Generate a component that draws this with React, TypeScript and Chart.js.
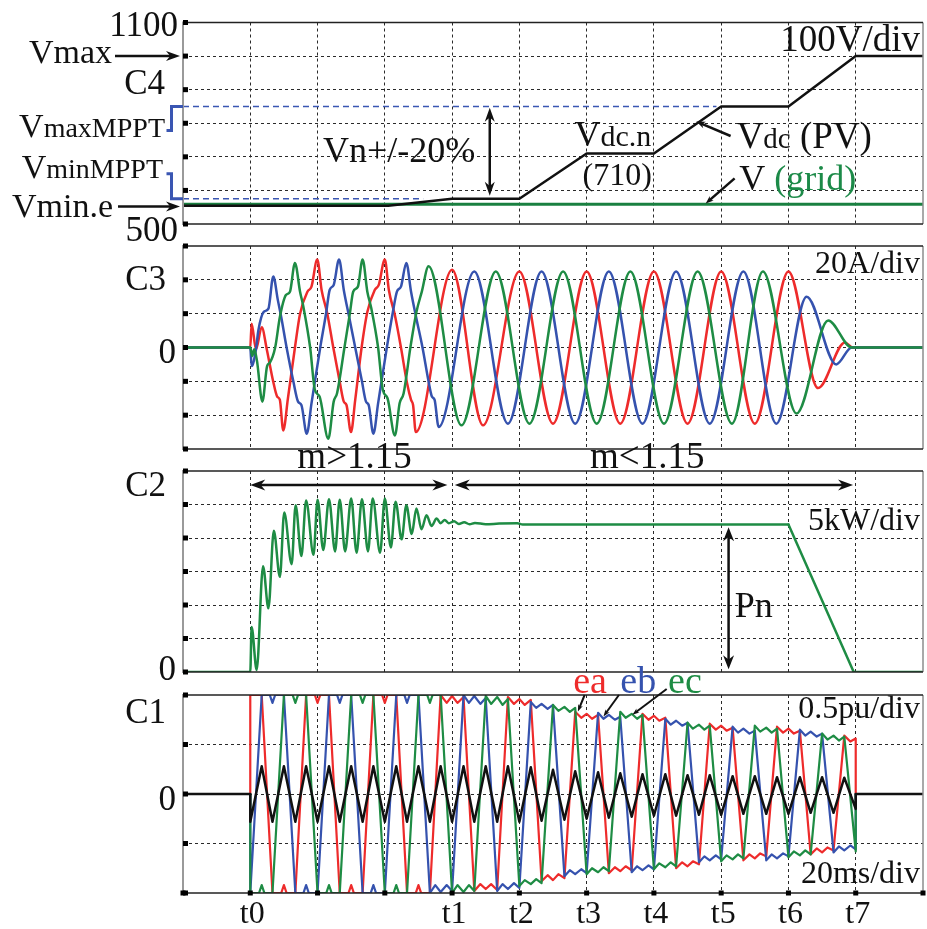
import React, { useEffect, useRef } from 'react';
import { Chart, registerables } from 'chart.js';

Chart.register(...registerables);

// ---------------- data (x in time divisions, 20 ms/div) ----------------
type P = [number, number];

// C4 : voltages (V)
const vdcTime = [0, 3.05, 4.0, 5.0, 6.0, 7.0, 8.0, 9.0, 10.0, 11.0];
const vdcVolts = [554, 554, 575, 575, 710, 710, 850, 850, 1000, 1000];
const gridTime = [0, 11];
const gridVolts = [559, 559];
const mpptMaxTime = [0, 7.93];
const mpptMaxVolts = [850, 850];
const mpptMinTime = [0, 3.57];
const mpptMinVolts = [575, 575];

// C3 : phase currents (A)
const iaPoints: P[] = [[0, 0], [1.0, 0], [1.02, 14], [1.085, -1], [1.17, 12], [1.245, -1], [1.34, -20], [1.4, -29], [1.44, -31], [1.49, -49], [1.56, -30], [1.664, 0], [1.74, 20], [1.85, 33], [1.91, 36], [1.996, 52], [2.06, 34], [2.145, 20], [2.234, 0], [2.333, -21], [2.39, -32], [2.43, -34], [2.497, -50], [2.56, -31], [2.655, 0], [2.74, 21], [2.85, 34], [2.91, 37], [3.0, 52], [3.06, 34], [3.15, 19], [3.24, 0], [3.33, -21], [3.39, -31], [3.42, -34], [3.46, -50], [4.0, 46], [4.46, -46], [5.0, 45], [5.5, -45], [6.0, 45], [6.5, -45], [7.0, 45], [7.5, -45], [8.0, 45], [8.5, -45], [9.0, 45], [9.44, -24], [9.84, 3], [9.95, 0], [11, 0]];
const ibPoints: P[] = [[0, 0], [1.0, 0], [1.02, -11], [1.085, -1], [1.12, 10], [1.2, 21], [1.27, 23], [1.342, 42], [1.41, 28], [1.46, 18], [1.54, 0], [1.64, -20], [1.71, -32], [1.76, -34], [1.84, -51], [1.91, -33], [2.04, 0], [2.13, 21], [2.18, 34], [2.24, 37], [2.32, 52], [2.39, 34], [2.47, 18], [2.56, 0], [2.66, -20], [2.72, -32], [2.76, -34], [2.83, -51], [2.9, -33], [3.03, 0], [3.12, 21], [3.18, 33], [3.24, 36], [3.32, 50], [3.39, 33], [3.47, 17], [3.56, 0], [3.65, -20], [3.7, -29], [3.74, -31], [3.8, -47], [4.33, 45], [4.83, -45], [5.33, 45], [5.83, -45], [6.33, 45], [6.83, -45], [7.33, 45], [7.83, -45], [8.33, 45], [8.82, -45], [9.27, 30], [9.71, -10], [9.94, 0], [11, 0]];
const icPoints: P[] = [[0, 0], [1.0, 0], [1.03, -5], [1.06, -1], [1.1, -8], [1.18, -32], [1.25, -11], [1.29, -9], [1.37, 0], [1.44, 18], [1.53, 31], [1.59, 33], [1.664, 50], [1.74, 33], [1.79, 24], [1.89, 0], [1.96, -25], [2.03, -29], [2.16, -54], [2.24, -32], [2.29, -27], [2.4, 0], [2.48, 20], [2.53, 33], [2.6, 36], [2.67, 52], [2.74, 33], [2.8, 23], [2.9, 0], [2.97, -25], [3.04, -30], [3.15, -52], [3.22, -33], [3.28, -27], [3.38, 0], [3.47, 21], [3.55, 33], [3.65, 48], [4.14, -46], [4.65, 45], [5.15, -45], [5.65, 45], [6.15, -45], [6.65, 45], [7.15, -45], [7.65, 45], [8.16, -45], [8.62, 45], [9.12, -39], [9.59, 16], [9.94, 0], [11, 0]];

// C2 : power (kW) — oscillating start-up, then the linear ramp-down
const powerPoints: P[] = [[0, 0], [1.0, 0], [1.02, 6.7], [1.095, 0.3], [1.19, 15.8], [1.27, 9.5], [1.35, 21.1], [1.44, 14.2], [1.505, 23.8], [1.615, 16.1], [1.674, 24.9], [1.76, 17.3], [1.83, 25.6], [1.94, 17.5], [2.0, 25.7], [2.085, 18.2], [2.17, 25.8], [2.26, 18.0], [2.33, 25.7], [2.41, 18.0], [2.5, 25.9], [2.58, 17.8], [2.66, 25.8], [2.75, 18.0], [2.82, 25.9], [2.93, 17.8], [3.0, 25.9], [3.09, 18.6], [3.16, 25.4], [3.25, 19.8], [3.32, 24.9], [3.4, 20.6], [3.47, 24.4], [3.545, 21.3], [3.62, 23.4], [3.695, 21.8], [3.77, 22.9], [3.83, 22.2], [3.89, 22.7], [3.95, 22.2], [4.03, 22.5], [4.1, 22.1], [4.18, 22.35], [4.26, 22.05], [4.34, 22.25], [4.5, 22.05], [4.7, 22.15], [4.97, 22.2], [5.05, 22.0], [9.0, 22.0]];
const powerRampPoints: P[] = [[9.0, 22.0], [9.97, 0], [11, 0]];

// C1 : modulating signals (pu)
const eaPoints: P[] = [[0, 0], [1.0, 0], [1.0, 1], [1.17, 1],
  [1.33, -1], [1.46, -1], [1.5, -0.92], [1.54, -1], [1.67, -1],
  [1.83, 1], [1.96, 1], [2.0, 0.92], [2.04, 1], [2.17, 1],
  [2.33, -1], [2.46, -1], [2.5, -0.92], [2.54, -1], [2.67, -1],
  [2.83, 1], [2.96, 1], [3.0, 0.92], [3.04, 1], [3.17, 1],
  [3.33, -1], [3.46, -1], [3.5, -0.92], [3.54, -1], [3.67, -1],
  [3.83, 1], [3.92, 0.92], [4.0, 0.99], [4.08, 0.92], [4.17, 0.98],
  [4.33, -0.98], [4.42, -0.91], [4.5, -0.96], [4.58, -0.91], [4.67, -0.97],
  [4.83, 0.98], [4.92, 0.91], [5.0, 0.96], [5.08, 0.9], [5.17, 0.95],
  [5.33, -0.88], [5.42, -0.82], [5.5, -0.87], [5.58, -0.81], [5.67, -0.85],
  [5.83, 0.83], [5.92, 0.77], [6.0, 0.81], [6.08, 0.76], [6.17, 0.8],
  [6.33, -0.8], [6.42, -0.74], [6.5, -0.78], [6.58, -0.73], [6.67, -0.77],
  [6.83, 0.81], [6.92, 0.75], [7.0, 0.79], [7.08, 0.74], [7.17, 0.77],
  [7.33, -0.75], [7.42, -0.69], [7.5, -0.73], [7.58, -0.68], [7.67, -0.71],
  [7.83, 0.71], [7.92, 0.65], [8.0, 0.69], [8.08, 0.64], [8.17, 0.67],
  [8.33, -0.67], [8.42, -0.61], [8.5, -0.65], [8.58, -0.6], [8.67, -0.63],
  [8.83, 0.68], [8.92, 0.62], [9.0, 0.66], [9.08, 0.61], [9.17, 0.64],
  [9.33, -0.61], [9.42, -0.55], [9.5, -0.59], [9.58, -0.54], [9.67, -0.57],
  [9.83, 0.59], [9.92, 0.53], [10.0, 0.56], [10.0, 0], [11, 0]];
const ebPoints: P[] = [[0, 0], [1.0, 0], [1.0, -1],
  [1.17, 1], [1.29, 1], [1.33, 0.92], [1.37, 1], [1.5, 1],
  [1.67, -1], [1.79, -1], [1.83, -0.92], [1.87, -1], [2.0, -1],
  [2.17, 1], [2.29, 1], [2.33, 0.92], [2.37, 1], [2.5, 1],
  [2.67, -1], [2.79, -1], [2.83, -0.92], [2.87, -1], [3.0, -1],
  [3.17, 1], [3.29, 1], [3.33, 0.92], [3.37, 1], [3.5, 1],
  [3.67, -1], [3.75, -0.92], [3.83, -0.99], [3.92, -0.92], [4.0, -0.98],
  [4.17, 1], [4.25, 0.92], [4.33, 0.99], [4.42, 0.91], [4.5, 0.97],
  [4.67, -0.98], [4.75, -0.91], [4.83, -0.96], [4.92, -0.9], [5.0, -0.95],
  [5.17, 0.93], [5.25, 0.87], [5.33, 0.91], [5.42, 0.86], [5.5, 0.9],
  [5.67, -0.83], [5.75, -0.77], [5.83, -0.81], [5.92, -0.76], [6.0, -0.8],
  [6.17, 0.82], [6.25, 0.76], [6.33, 0.8], [6.42, 0.75], [6.5, 0.78],
  [6.67, -0.79], [6.75, -0.73], [6.83, -0.77], [6.92, -0.72], [7.0, -0.76],
  [7.17, 0.76], [7.25, 0.7], [7.33, 0.74], [7.42, 0.69], [7.5, 0.72],
  [7.67, -0.69], [7.75, -0.63], [7.83, -0.67], [7.92, -0.62], [8.0, -0.66],
  [8.17, 0.68], [8.25, 0.62], [8.33, 0.66], [8.42, 0.61], [8.5, 0.64],
  [8.67, -0.67], [8.75, -0.61], [8.83, -0.65], [8.92, -0.6], [9.0, -0.63],
  [9.17, 0.65], [9.25, 0.59], [9.33, 0.63], [9.42, 0.58], [9.5, 0.61],
  [9.67, -0.59], [9.75, -0.53], [9.83, -0.57], [9.92, -0.52], [10.0, -0.56], [10.0, 0], [11, 0]];
const ecPoints: P[] = [[0, 0], [1.0, 0], [1.0, -1], [1.13, -1], [1.17, -0.92], [1.21, -1], [1.33, -1],
  [1.5, 1], [1.63, 1], [1.67, 0.92], [1.71, 1], [1.83, 1],
  [2.0, -1], [2.13, -1], [2.17, -0.92], [2.21, -1], [2.33, -1],
  [2.5, 1], [2.63, 1], [2.67, 0.92], [2.71, 1], [2.83, 1],
  [3.0, -1], [3.13, -1], [3.17, -0.92], [3.21, -1], [3.33, -1],
  [3.5, 1], [3.63, 1], [3.67, 0.92], [3.71, 1], [3.83, 1],
  [4.0, -1], [4.08, -0.92], [4.17, -0.99], [4.25, -0.92], [4.33, -0.98],
  [4.5, 0.99], [4.58, 0.91], [4.67, 0.98], [4.75, 0.9], [4.83, 0.96],
  [5.0, -0.93], [5.08, -0.87], [5.17, -0.91], [5.25, -0.86], [5.33, -0.9],
  [5.5, 0.9], [5.58, 0.84], [5.67, 0.88], [5.75, 0.83], [5.83, 0.87],
  [6.0, -0.81], [6.08, -0.75], [6.17, -0.79], [6.25, -0.74], [6.33, -0.78],
  [6.5, 0.83], [6.58, 0.77], [6.67, 0.81], [6.75, 0.76], [6.83, 0.8],
  [7.0, -0.76], [7.08, -0.7], [7.17, -0.74], [7.25, -0.69], [7.33, -0.73],
  [7.5, 0.72], [7.58, 0.66], [7.67, 0.7], [7.75, 0.65], [7.83, 0.69],
  [8.0, -0.68], [8.08, -0.62], [8.17, -0.66], [8.25, -0.61], [8.33, -0.65],
  [8.5, 0.69], [8.58, 0.63], [8.67, 0.67], [8.75, 0.62], [8.83, 0.66],
  [9.0, -0.64], [9.08, -0.58], [9.17, -0.62], [9.25, -0.57], [9.33, -0.61],
  [9.5, 0.61], [9.58, 0.55], [9.67, 0.59], [9.75, 0.54], [9.83, 0.58],
  [10.0, -0.58], [10.0, 0], [11, 0]];
const zeroSeqPoints: P[] = [[0, 0], [1.0, 0], [1.0, -0.28], [1.17, 0.28], [1.33, -0.28], [1.5, 0.28], [1.67, -0.28], [1.83, 0.28], [2.0, -0.28], [2.17, 0.28], [2.33, -0.28], [2.5, 0.28], [2.67, -0.28], [2.83, 0.28], [3.0, -0.28], [3.17, 0.28], [3.33, -0.28], [3.5, 0.28], [3.67, -0.28], [3.83, 0.28], [4.0, -0.28], [4.17, 0.28], [4.33, -0.28], [4.5, 0.28], [4.67, -0.28], [4.83, 0.28], [5.0, -0.28], [5.17, 0.27], [5.33, -0.27], [5.5, 0.245], [5.67, -0.26], [5.83, 0.23], [6.0, -0.25], [6.17, 0.22], [6.33, -0.24], [6.5, 0.21], [6.67, -0.23], [6.83, 0.2], [7.0, -0.22], [7.17, 0.2], [7.33, -0.22], [7.5, 0.19], [7.67, -0.21], [7.83, 0.19], [8.0, -0.21], [8.17, 0.18], [8.33, -0.2], [8.5, 0.18], [8.67, -0.2], [8.83, 0.17], [9.0, -0.2], [9.17, 0.17], [9.33, -0.19], [9.5, 0.17], [9.67, -0.19], [9.83, 0.165], [10.0, -0.15], [10.0, 0], [11, 0]];

// time markers
const tLabels = ['t0', 't1', 't2', 't3', 't4', 't5', 't6', 't7'];
const tTimes = [1, 4, 5, 6, 7, 8, 9, 10];

// ---------------- styling ----------------
const W = 927, H = 929;
const AREA_L = 183, AREA_R = 923;
const FONT = "'Liberation Serif', 'Times New Roman', serif";
const INK = '#111';
const RED = '#ee2b2b', BLUE = '#3552ae', GREEN = '#1e8c44', GREEN_T = '#1c8a48', MPPT = '#3a56b2';

const zip = (xs: number[], ys: number[]) => xs.map((x, i) => ({ x, y: ys[i] }));
const toXY = (pts: P[]) => pts.map(([x, y]) => ({ x, y }));

function line(ctx: CanvasRenderingContext2D, x1: number, y1: number, x2: number, y2: number) {
  ctx.beginPath(); ctx.moveTo(x1, y1); ctx.lineTo(x2, y2); ctx.stroke();
}
type Run = [string, number, string?];
function txt(ctx: CanvasRenderingContext2D, parts: Run[], x: number, y: number, align: 'left' | 'right' | 'center' = 'left') {
  ctx.save();
  ctx.textBaseline = 'alphabetic'; ctx.textAlign = 'left';
  const ws = parts.map(([t, s]) => { ctx.font = `${s}px ${FONT}`; return ctx.measureText(t).width; });
  const tot = ws.reduce((a, b) => a + b, 0);
  let cx = align === 'left' ? x : align === 'right' ? x - tot : x - tot / 2;
  parts.forEach(([t, s, c], i) => { ctx.font = `${s}px ${FONT}`; ctx.fillStyle = c || INK; ctx.fillText(t, cx, y); cx += ws[i]; });
  ctx.restore();
}
function head(ctx: CanvasRenderingContext2D, x: number, y: number, ang: number, len: number, half: number) {
  const c = Math.cos(ang), s = Math.sin(ang);
  const bx = x - len * c, by = y - len * s;
  ctx.beginPath();
  ctx.moveTo(x, y);
  ctx.lineTo(bx - half * s, by + half * c);
  ctx.lineTo(x - 0.7 * len * c, y - 0.7 * len * s);
  ctx.lineTo(bx + half * s, by - half * c);
  ctx.closePath();
  ctx.fill();
}
function arrow(ctx: CanvasRenderingContext2D, x1: number, y1: number, x2: number, y2: number, w: number, len: number, half: number, both = false) {
  ctx.save();
  ctx.strokeStyle = INK; ctx.fillStyle = INK; ctx.lineWidth = w; ctx.setLineDash([]);
  const ang = Math.atan2(y2 - y1, x2 - x1);
  const c = Math.cos(ang), s = Math.sin(ang);
  const sx = both ? x1 + 0.6 * len * c : x1, sy = both ? y1 + 0.6 * len * s : y1;
  line(ctx, sx, sy, x2 - 0.6 * len * c, y2 - 0.6 * len * s);
  head(ctx, x2, y2, ang, len, half);
  if (both) head(ctx, x1, y1, ang + Math.PI, len, half);
  ctx.restore();
}
function frame(chart: any, bottomTicks = false) {
  const { ctx, chartArea: a } = chart;
  ctx.save();
  ctx.setLineDash([]);
  ctx.strokeStyle = '#8c8c8c'; ctx.lineWidth = 1.5;
  line(ctx, a.right, a.top, a.right, a.bottom);
  ctx.strokeStyle = '#222'; ctx.lineWidth = 1.5;
  line(ctx, a.left, a.top, a.right, a.top);
  line(ctx, a.left, a.bottom, a.right, a.bottom);
  ctx.strokeStyle = '#9a9a9a'; ctx.lineWidth = 2;
  line(ctx, a.left, a.top - 1, a.left, a.bottom + 1);
  ctx.fillStyle = '#000';
  const ys = chart.scales.y;
  for (const t of ys.ticks) {
    const y = ys.getPixelForValue(t.value);
    ctx.fillRect(a.left, y - 2.5, 5, 5);
  }
  if (bottomTicks) {
    const xs = chart.scales.x;
    for (const t of xs.ticks) {
      const x = xs.getPixelForValue(t.value);
      ctx.fillRect(x - 2.5, a.bottom - 2.5, 5, 5);
    }
  }
  ctx.restore();
}

// ---------------- panel decorations ----------------
function drawC4(chart: any) {
  frame(chart);
  const { ctx, chartArea: a } = chart;
  const X = (v: number) => chart.scales.x.getPixelForValue(v);
  const Y = (v: number) => chart.scales.y.getPixelForValue(v);
  txt(ctx, [['1100', 35]], a.left - 5, Y(1100) + 13, 'right');
  txt(ctx, [['500', 35]], a.left - 5, Y(500) + 17, 'right');
  txt(ctx, [['Vmax', 34]], a.left - 71, Y(1000) + 7, 'right');
  arrow(ctx, a.left - 68, Y(1000), a.left - 3, Y(1000), 2.5, 14, 5);
  txt(ctx, [['C4', 35]], a.left - 18, Y(1000) + 38, 'right');
  txt(ctx, [['V', 34], ['maxMPPT', 28]], a.left - 18, Y(850) + 31, 'right');
  txt(ctx, [['V', 34], ['minMPPT', 28]], a.left - 20, Y(575) - 21, 'right');
  txt(ctx, [['Vmin.e', 34]], a.left - 70, Y(552) + 10.5, 'right');
  arrow(ctx, a.left - 65, Y(552), a.left - 3, Y(552), 2.5, 14, 5);
  ctx.save();
  ctx.strokeStyle = MPPT; ctx.lineWidth = 3; ctx.lineJoin = 'miter';
  ctx.beginPath();
  ctx.moveTo(a.left, Y(850)); ctx.lineTo(a.left - 11.5, Y(850)); ctx.lineTo(a.left - 11.5, Y(850) + 24); ctx.lineTo(a.left - 16.5, Y(850) + 24);
  ctx.stroke();
  ctx.beginPath();
  ctx.moveTo(a.left - 16.5, Y(575) - 25); ctx.lineTo(a.left - 11.5, Y(575) - 25); ctx.lineTo(a.left - 11.5, Y(575)); ctx.lineTo(a.left, Y(575));
  ctx.stroke();
  ctx.restore();
  txt(ctx, [['Vn+/-20%', 36]], X(2.08), Y(686), 'left');
  arrow(ctx, X(4.56), Y(846), X(4.56), Y(584), 2.5, 14, 5, true);
  txt(ctx, [['100V/div', 37]], a.right - 3, Y(1000) - 5, 'right');
  txt(ctx, [['V', 36], ['dc.n', 30]], X(5.82), Y(710) - 7, 'left');
  txt(ctx, [['(710)', 32]], X(5.94), Y(710) + 31.5, 'left');
  txt(ctx, [['V', 37], ['dc', 29], [' (PV)', 37]], X(8.23), Y(710) - 5, 'left');
  arrow(ctx, X(8.14), Y(762), X(7.63), Y(805), 2.5, 9, 3.5);
  txt(ctx, [['V ', 36], ['(grid)', 36, GREEN_T]], X(8.27), Y(601), 'left');
  arrow(ctx, X(8.2), Y(636), X(7.77), Y(561), 2.5, 8, 3);
}

function drawC3(chart: any) {
  frame(chart);
  const { ctx, chartArea: a } = chart;
  const Y = (v: number) => chart.scales.y.getPixelForValue(v);
  txt(ctx, [['C3', 35]], a.left - 17, Y(34), 'right');
  txt(ctx, [['0', 35]], a.left - 7, Y(0) + 15.5, 'right');
  txt(ctx, [['20A/div', 32]], a.right - 3, Y(44), 'right');
}

function drawC2(chart: any) {
  frame(chart);
  const { ctx, chartArea: a } = chart;
  const X = (v: number) => chart.scales.x.getPixelForValue(v);
  const Y = (v: number) => chart.scales.y.getPixelForValue(v);
  txt(ctx, [['C2', 35]], a.left - 17, Y(26.2), 'right');
  txt(ctx, [['0', 35]], a.left - 7, Y(0) + 8, 'right');
  txt(ctx, [['m>1.15', 37]], X(2.55), Y(30.4), 'center');
  txt(ctx, [['m<1.15', 37]], X(6.9), Y(30.4), 'center');
  arrow(ctx, X(1.0), Y(27.9), X(3.93), Y(27.9), 2.5, 15, 5.5, true);
  arrow(ctx, X(4.04), Y(27.9), X(9.96), Y(27.9), 2.5, 15, 5.5, true);
  txt(ctx, [['5kW/div', 32]], a.right - 3, Y(21.2), 'right');
  arrow(ctx, X(8.11), Y(21.6), X(8.11), Y(0.4), 2.5, 14, 5.5, true);
  txt(ctx, [['Pn', 36]], X(8.2), Y(8.25), 'left');
}

function drawC1(chart: any) {
  frame(chart, true);
  const { ctx, chartArea: a } = chart;
  const X = (v: number) => chart.scales.x.getPixelForValue(v);
  const Y = (v: number) => chart.scales.y.getPixelForValue(v);
  txt(ctx, [['C1', 35]], a.left - 17, Y(0.717), 'right');
  txt(ctx, [['0', 35]], a.left - 7, Y(0) + 16, 'right');
  txt(ctx, [['0.5pu/div', 32]], a.right - 3, Y(0.768), 'right');
  txt(ctx, [['20ms/div', 32]], a.right - 3, Y(-0.9), 'right');
  const base = Y(1) - 1.7;
  txt(ctx, [['ea', 38, RED]], X(5.8), base, 'left');
  txt(ctx, [['eb', 38, BLUE]], X(6.5), base, 'left');
  txt(ctx, [['ec', 38, GREEN]], X(7.21), base, 'left');
  arrow(ctx, X(5.97), Y(1.0), X(5.87), Y(0.834), 2, 7, 2.5);
  arrow(ctx, X(6.48), Y(1.0), X(6.25), Y(0.784), 2, 7, 2.5);
  arrow(ctx, X(7.19), Y(1.06), X(6.68), Y(0.8), 2, 7, 2.5);
  tLabels.forEach((l, i) => txt(ctx, [[l, 32]], X(tTimes[i]) + 2, a.bottom + 30, 'center'));
}

// ---------------- chart panels ----------------
interface PanelSpec {
  top: number; bottom: number; yMin: number; yMax: number; yStep: number;
  datasets: any[]; draw: (c: any) => void;
}

const gridColor = (ctx: any) => {
  const s = ctx.scale; const v = ctx.tick ? ctx.tick.value : 0;
  return (v <= s.min + 1e-9 || v >= s.max - 1e-9) ? 'rgba(0,0,0,0)' : '#2a2a2a';
};

const lineDs = (data: any[], color: string, width: number, extra: any = {}) => ({
  data, borderColor: color, borderWidth: width, pointRadius: 0, fill: false, tension: 0,
  borderCapStyle: 'round', borderJoinStyle: 'round', ...extra,
});

const panels: PanelSpec[] = [
  {
    top: 22.5, bottom: 224, yMin: 500, yMax: 1100, yStep: 100, draw: drawC4,
    datasets: [
      lineDs(zip(vdcTime, vdcVolts), INK, 2.5),
      lineDs(zip(gridTime, gridVolts), '#1a8040', 3),
      lineDs(zip(mpptMaxTime, mpptMaxVolts), MPPT, 1.5, { borderDash: [6, 4], borderCapStyle: 'butt' }),
      lineDs(zip(mpptMinTime, mpptMinVolts), MPPT, 1.5, { borderDash: [6, 4], borderCapStyle: 'butt' }),
    ],
  },
  {
    top: 246, bottom: 449, yMin: -60, yMax: 60, yStep: 20, draw: drawC3,
    datasets: [
      lineDs(toXY(icPoints), GREEN, 2.5, { cubicInterpolationMode: 'monotone' }),
      lineDs(toXY(ibPoints), BLUE, 2.5, { cubicInterpolationMode: 'monotone' }),
      lineDs(toXY(iaPoints), RED, 2.5, { cubicInterpolationMode: 'monotone' }),
    ],
  },
  {
    top: 471, bottom: 672, yMin: 0, yMax: 30, yStep: 5, draw: drawC2,
    datasets: [
      lineDs(toXY(powerPoints), GREEN, 2.5, { cubicInterpolationMode: 'monotone' }),
      lineDs(toXY(powerRampPoints), GREEN, 2.5),
    ],
  },
  {
    top: 695, bottom: 893, yMin: -1, yMax: 1, yStep: 0.5, draw: drawC1,
    datasets: [
      lineDs(toXY(zeroSeqPoints), INK, 2.5),
      lineDs(toXY(ecPoints), GREEN, 2.2),
      lineDs(toXY(ebPoints), BLUE, 2.2),
      lineDs(toXY(eaPoints), RED, 2.2),
    ],
  },
];

function Panel({ spec }: { spec: PanelSpec }) {
  const ref = useRef<HTMLCanvasElement>(null);
  useEffect(() => {
    const canvas = ref.current!;
    const axisGrid = { color: gridColor, drawTicks: false, lineWidth: 1 };
    const axisBorder = { display: false, dash: [3, 3] };
    const chart = new Chart(canvas, {
      type: 'line',
      data: { datasets: spec.datasets },
      options: {
        responsive: false,
        maintainAspectRatio: false,
        animation: false,
        devicePixelRatio: 1,
        events: [],
        layout: { padding: { left: AREA_L, right: W - AREA_R, top: spec.top, bottom: H - spec.bottom } },
        plugins: { legend: { display: false }, tooltip: { enabled: false } },
        elements: { point: { radius: 0 } },
        scales: {
          x: { type: 'linear', min: 0, max: 11, ticks: { display: false, stepSize: 1 }, grid: axisGrid, border: axisBorder },
          y: { type: 'linear', min: spec.yMin, max: spec.yMax, ticks: { display: false, stepSize: spec.yStep }, grid: axisGrid, border: axisBorder },
        },
      } as any,
      plugins: [{ id: 'deco', afterDraw: (c: any) => spec.draw(c) }],
    });
    return () => chart.destroy();
  }, [spec]);
  return <canvas ref={ref} width={W} height={H} style={{ position: 'absolute', left: 0, top: 0, width: W, height: H }} />;
}

export default function App() {
  return (
    <div style={{ position: 'fixed', left: 0, top: 0, width: W, height: H, background: '#fff', overflow: 'hidden' }}>
      {panels.map((p, i) => <Panel key={i} spec={p} />)}
    </div>
  );
}
